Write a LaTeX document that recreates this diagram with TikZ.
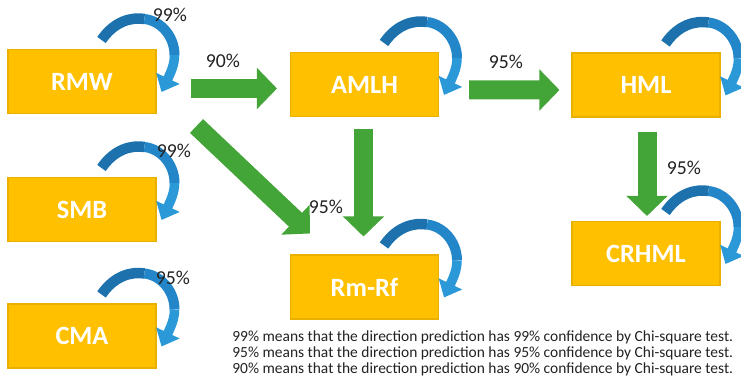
\documentclass[tikz,border=0pt]{standalone}
\usepackage{fontspec}
\setmainfont{Carlito}
\usepackage{xcolor}
\usepackage{tikz}
\usetikzlibrary{arrows.meta,calc}
\definecolor{factorgold}{HTML}{FFC000}
\definecolor{factorrim}{HTML}{E9B000}
\definecolor{flowgreen}{HTML}{43A437}
\definecolor{loopdark}{HTML}{1D72AD}
\definecolor{loopmid}{HTML}{2386C8}
\definecolor{looplight}{HTML}{2B98D8}
\definecolor{inkgray}{HTML}{222222}
\tikzset{
  factor/.style={rectangle,fill=factorgold,draw=factorrim,line width=0.6pt,
    minimum width=2.96cm,minimum height=1.28cm,inner sep=0pt,
    text=white,font=\fontsize{15}{18}\selectfont\bfseries},
  flow/.style={draw=flowgreen,line width=0.38cm,-{Triangle[width=0.8cm,length=0.4cm]}},
  loopa/.style={draw=loopdark,line width=0.21cm},
  loopb/.style={draw=loopmid,line width=0.2cm},
  loopc/.style={draw=looplight,line width=0.19cm,-{Triangle[width=0.5cm,length=0.3cm]}},
  conf/.style={text=inkgray,inner sep=0pt,font=\fontsize{11.2}{13}\selectfont}
}
% curved self arrow sitting on a box's top right corner
\newcommand{\selfloop}[1]{%
  \begin{scope}[shift={(#1.north east)}]
    \draw[loopa] (-55,-9) .. controls (-42,-28) and (-25,-32) .. (-12,-30);
    \draw[loopb] (-12,-30) .. controls (5,-28) and (18,-12) .. (18,6);
    \draw[loopc] (18,6) .. controls (18,16) and (14,24) .. (5,43);
  \end{scope}}

\begin{document}
\begin{tikzpicture}[x=0.02cm,y=-0.02cm]
\useasboundingbox (0,0) rectangle (741,391);
\node[factor] (rmw) at (82,81.5) {RMW};
\node[factor] (smb) at (82,209.5) {SMB};
\node[factor] (cma) at (82,336) {CMA};
\node[factor] (amlh) at (364.5,84.5) {AMLH};
\node[factor] (rmrf) at (364.5,287) {Rm-Rf};
\node[factor] (hml) at (646,85) {HML};
\node[factor] (crhml) at (646,253.5) {CRHML};
\draw[flow] ([shift={(34,7)}]rmw.east) -- ([shift={(-13,4)}]amlh.west);
\draw[flow] ([shift={(30,5.5)}]amlh.east) -- ([shift={(-12,5)}]hml.west);
\draw[flow] ([shift={(-1,12)}]amlh.south) -- ([shift={(-1,-18)}]rmrf.north);
\draw[flow] ([shift={(1,14)}]hml.south) -- ([shift={(1,-5)}]crhml.north);
\draw[flow] ([shift={(40,12)}]rmw.south east) -- ([shift={(20,-21)}]rmrf.north west);
\foreach \fac in {rmw,smb,cma,amlh,rmrf,hml,crhml}
  \selfloop{\fac};
\node[conf] (c1) at (170,15) {99\%};
\node[conf] (c2) at (223,61) {90\%};
\node[conf] (c3) at (506,62) {95\%};
\node[conf] (c4) at (684,168) {95\%};
\node[conf] (c5) at (326,207) {95\%};
\node[conf] (c6) at (174,151) {99\%};
\node[conf] (c7) at (173,278) {95\%};
\node[anchor=north west,inner sep=0pt,align=left,text=inkgray,
  font=\fontsize{8.8}{9.1}\selectfont] (notes) at (232,330)
  {99\% means that the direction prediction has 99\% confidence by Chi-square test.\\
   95\% means that the direction prediction has 95\% confidence by Chi-square test.\\
   90\% means that the direction prediction has 90\% confidence by Chi-square test.};
\end{tikzpicture}
\end{document}
